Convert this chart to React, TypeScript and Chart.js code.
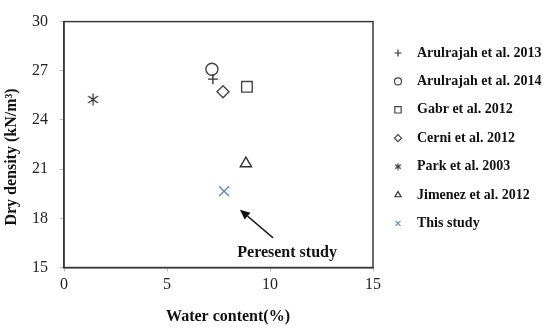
import React, { useEffect, useRef } from 'react';
import { Chart, registerables } from 'chart.js';
import { drawPoint } from 'chart.js/helpers';

Chart.register(...registerables);

const seriesLabels = [
  'Arulrajah et al. 2013',
  'Arulrajah et al. 2014',
  'Gabr et al. 2012',
  'Cerni et al. 2012',
  'Park et al. 2003',
  'Jimenez et al. 2012',
  'This study',
];
const waterContent = [7.23, 7.18, 8.88, 7.72, 1.41, 8.83, 7.77];
const dryDensity = [26.49, 27.09, 26.02, 25.72, 25.25, 21.34, 19.66];
const pointStyles = ['cross', 'circle', 'rect', 'rectRot', 'asterisk', 'triangle', 'crossRot'];
const pointRadii = [5, 6, 7.5, 6, 6, 6.5, 7];
const seriesColors = ['#333333', '#444444', '#444444', '#444444', '#333333', '#333333', '#5a8bbf'];
const xTickValues = [0, 5, 10, 15];
const yTickValues = [15, 18, 21, 24, 27, 30];
const xTitle = 'Water content(%)';
const yTitle = 'Dry density (kN/m³)';
const annotationText = 'Peresent study';
const arrowTail = { x: 10.15, y: 16.81 };
const arrowHead = { x: 8.54, y: 18.53 };
const annotationPos = { x: 10.83, y: 15.9 };

const SERIF = '"Liberation Serif", "Times New Roman", serif';

function makeAsterisk(size: number, color: string, lw: number) {
  const c = document.createElement('canvas');
  c.width = size;
  c.height = size;
  const g = c.getContext('2d')!;
  const m = size / 2;
  const r = size / 2 - 0.5;
  g.strokeStyle = color;
  g.lineWidth = lw;
  g.beginPath();
  [90, 35, 145].forEach((deg) => {
    const a = (deg * Math.PI) / 180;
    g.moveTo(m - r * Math.cos(a), m - r * Math.sin(a));
    g.lineTo(m + r * Math.cos(a), m + r * Math.sin(a));
  });
  g.stroke();
  return c;
}

const framePlugin = {
  id: 'framePlugin',
  afterDraw(chart: any) {
    const { ctx, chartArea: a, scales } = chart;
    ctx.save();
    ctx.strokeStyle = '#3a3a3a';
    ctx.lineWidth = 1.5;
    ctx.strokeRect(a.left, a.top, a.right - a.left, a.bottom - a.top);

    ctx.fillStyle = '#111';
    ctx.font = `bold 16px ${SERIF}`;
    ctx.textAlign = 'center';
    ctx.textBaseline = 'middle';
    ctx.fillText(xTitle, 228, 317);
    ctx.save();
    ctx.translate(12, 157);
    ctx.rotate(-Math.PI / 2);
    ctx.fillText(yTitle, 0, 0);
    ctx.restore();

    const x = scales.x, y = scales.y;
    const tx = x.getPixelForValue(arrowTail.x), ty = y.getPixelForValue(arrowTail.y);
    const hx = x.getPixelForValue(arrowHead.x), hy = y.getPixelForValue(arrowHead.y);
    const ang = Math.atan2(hy - ty, hx - tx);
    const headLen = 10, headW = 4.5;
    const bx = hx - headLen * Math.cos(ang), by = hy - headLen * Math.sin(ang);
    ctx.strokeStyle = '#222';
    ctx.lineWidth = 1.5;
    ctx.beginPath();
    ctx.moveTo(tx, ty);
    ctx.lineTo(bx, by);
    ctx.stroke();
    ctx.fillStyle = '#111';
    ctx.beginPath();
    ctx.moveTo(hx, hy);
    ctx.lineTo(bx + headW * Math.sin(ang), by - headW * Math.cos(ang));
    ctx.lineTo(bx - headW * Math.sin(ang), by + headW * Math.cos(ang));
    ctx.closePath();
    ctx.fill();

    ctx.font = `bold 16px ${SERIF}`;
    ctx.fillText(annotationText, x.getPixelForValue(annotationPos.x), y.getPixelForValue(annotationPos.y));

    const ds = chart.data.datasets;
    ctx.font = `bold 14px ${SERIF}`;
    ctx.textAlign = 'left';
    ds.forEach((d: any, i: number) => {
      const ry = 53 + i * 28.4;
      ctx.strokeStyle = d.borderColor;
      ctx.fillStyle = 'rgba(0,0,0,0)';
      ctx.lineWidth = 1.2;
      const style = d.legendStyle;
      drawPoint(ctx, { pointStyle: style, radius: d.pointStyle === 'rect' ? 4.5 : 3.5, rotation: 0, borderWidth: 1.2 }, 398, ry);
      ctx.fillStyle = '#111';
      ctx.fillText(d.label, 417, ry);
    });
    ctx.restore();
  },
};

export default function App() {
  const ref = useRef<HTMLCanvasElement>(null);
  useEffect(() => {
    document.body.style.margin = '0';
    const bigAsterisk = makeAsterisk(13, '#333333', 1.3);
    const smallAsterisk = makeAsterisk(8, '#333333', 1.1);
    const datasets = seriesLabels.map((label, i) => {
      const ps = pointStyles[i] === 'asterisk' ? bigAsterisk : pointStyles[i];
      return {
        label,
        data: [{ x: waterContent[i], y: dryDensity[i] }],
        pointStyle: ps,
        legendStyle: pointStyles[i] === 'asterisk' ? smallAsterisk : pointStyles[i],
        pointRadius: pointRadii[i],
        pointHoverRadius: pointRadii[i],
        borderColor: seriesColors[i],
        backgroundColor: 'rgba(0,0,0,0)',
        pointBorderWidth: 1.4,
        showLine: false,
      };
    });
    const chart = new Chart(ref.current!, {
      type: 'scatter',
      data: { datasets } as any,
      options: {
        animation: false,
        responsive: false,
        layout: { padding: { left: 0, top: 15, right: 177, bottom: 0 } },
        plugins: { legend: { display: false }, tooltip: { enabled: false } },
        scales: {
          x: {
            type: 'linear',
            min: 0,
            max: 15,
            afterFit: (s: any) => { s.height = 63.5; },
            afterBuildTicks: (s: any) => { s.ticks = xTickValues.map((v) => ({ value: v })); },
            grid: { drawOnChartArea: false, tickLength: 4, color: '#bbbbbb' },
            border: { color: '#3a3a3a', width: 1.5 },
            ticks: { color: '#222', font: { family: SERIF, size: 16 }, padding: 4, maxRotation: 0 },
          },
          y: {
            type: 'linear',
            min: 15,
            max: 30,
            afterFit: (s: any) => { s.width = 64; },
            afterBuildTicks: (s: any) => { s.ticks = yTickValues.map((v) => ({ value: v })); },
            grid: { drawOnChartArea: false, tickLength: 4, color: '#bbbbbb' },
            border: { color: '#3a3a3a', width: 1.5 },
            ticks: { color: '#222', font: { family: SERIF, size: 16 }, padding: 12 },
          },
        },
      },
      plugins: [framePlugin],
    });
    return () => chart.destroy();
  }, []);
  return (
    <div style={{ width: 550, height: 331, background: '#fff' }}>
      <canvas ref={ref} width={550} height={331} style={{ display: 'block' }} />
    </div>
  );
}
